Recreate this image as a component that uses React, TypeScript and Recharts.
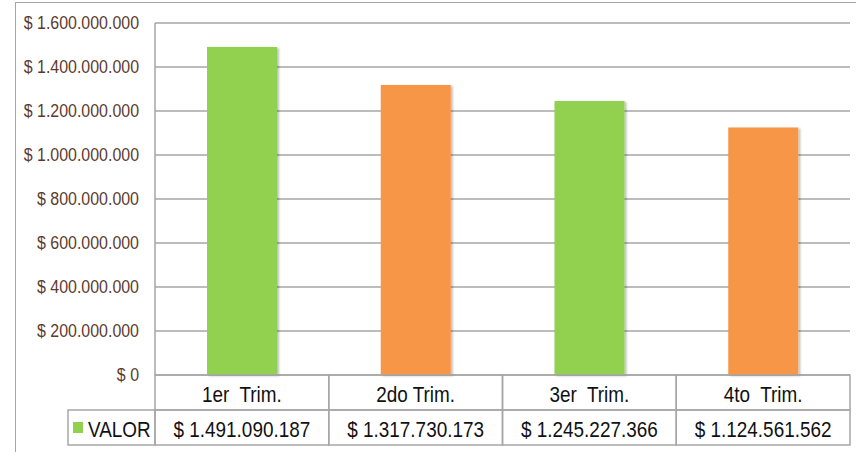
import React from 'react';
import { BarChart, Bar, XAxis, YAxis, CartesianGrid, Cell } from 'recharts';

const categories = ['1er  Trim.', '2do Trim.', '3er  Trim.', '4to  Trim.'];
const values = [1491090187, 1317730173, 1245227366, 1124561562];
const barColors = ['#92D050', '#F79646', '#92D050', '#F79646'];
const yTicks = [0, 200000000, 400000000, 600000000, 800000000, 1000000000, 1200000000, 1400000000, 1600000000];
const seriesName = 'VALOR';

const money = (v: number) => '$ ' + String(v).replace(/\B(?=(\d{3})+(?!\d))/g, '.');

const data = categories.map((name, i) => ({ name, value: values[i], valueLabel: money(values[i]) }));

const FONT = "'Liberation Sans', Arial, sans-serif";
const GRID = '#A6A6A6';
const CHART_W = 856;
const MARGIN = { top: 23, right: 6, bottom: 7, left: 15 };
const Y_W = 140;
const ROW_H = 35;
const CELL_W = (CHART_W - MARGIN.left - MARGIN.right - Y_W) / categories.length;

// no narrow font installed, so squeeze the glyphs horizontally
const NarrowText = ({ x, y, anchor = 'middle', size, fill, squeeze, children }: any) => (
  <text
    transform={`translate(${x},${y}) scale(${squeeze},1)`}
    x={0}
    y={0}
    textAnchor={anchor}
    dominantBaseline="central"
    fill={fill}
    fontSize={size}
    fontFamily={FONT}
    style={{ whiteSpace: 'pre' }}
  >
    {children}
  </text>
);

const CatTick = (props: any) => {
  const { x, y, payload } = props;
  return (
    <g>
      <rect x={x - CELL_W / 2} y={y} width={CELL_W} height={ROW_H} fill="none" stroke={GRID} strokeWidth={1.5} />
      <NarrowText x={x} y={y + ROW_H / 2 + 1} size={22} squeeze={0.86} fill="#111">
        {payload.value}
      </NarrowText>
    </g>
  );
};

const ValTick = (props: any) => {
  const { x, y, payload, index } = props;
  const legendW = 87;
  const lx = x - CELL_W / 2 - legendW;
  return (
    <g>
      <rect x={x - CELL_W / 2} y={y} width={CELL_W} height={ROW_H} fill="none" stroke={GRID} strokeWidth={1.5} />
      <NarrowText x={x} y={y + ROW_H / 2 + 1} size={22} squeeze={0.86} fill="#111">
        {payload.value}
      </NarrowText>
      {index === 0 && (
        <g>
          <rect x={lx} y={y} width={legendW} height={ROW_H} fill="none" stroke={GRID} strokeWidth={1.5} />
          <rect x={lx + 5} y={y + 12} width={10} height={11} fill={barColors[0]} />
          <NarrowText x={lx + 20} y={y + ROW_H / 2 + 1} anchor="start" size={22} squeeze={0.86} fill="#111">
            {seriesName}
          </NarrowText>
        </g>
      )}
    </g>
  );
};

const YTick = (props: any) => {
  const { x, y, payload } = props;
  return (
    <NarrowText x={x} y={y} anchor="end" size={19} squeeze={0.84} fill="#5C3B2E">
      {money(payload.value)}
    </NarrowText>
  );
};

export default function App() {
  return (
    <div style={{ position: 'absolute', left: 0, top: 0, width: 856, height: 452, overflow: 'hidden', background: '#fff' }}>
      <div style={{ position: 'absolute', left: 15, top: 2, width: 900, height: 500, borderLeft: `1.5px solid ${GRID}`, borderTop: `1.5px solid ${GRID}` }} />
      <svg width={0} height={0} style={{ position: 'absolute' }}>
        <defs>
          <filter id="barShadow" x="-10%" y="-10%" width="130%" height="120%">
            <feDropShadow dx="2" dy="1" stdDeviation="1.2" floodColor="#000" floodOpacity="0.25" />
          </filter>
        </defs>
      </svg>
      <div style={{ position: 'absolute', left: 0, top: 0 }}>
        <BarChart width={CHART_W} height={452} data={data} margin={MARGIN} barSize={70}>
          <CartesianGrid xAxisId="cat" vertical={false} stroke={GRID} strokeWidth={1.5} />
          <XAxis xAxisId="cat" dataKey="name" height={ROW_H} axisLine={false} tickLine={false} tickSize={0} tickMargin={0} interval={0} tick={(p: any) => <CatTick {...p} />} />
          <XAxis xAxisId="val" dataKey="valueLabel" height={ROW_H} axisLine={false} tickLine={false} tickSize={0} tickMargin={0} interval={0} tick={(p: any) => <ValTick {...p} />} />
          <YAxis
            width={Y_W}
            domain={[0, 1600000000]}
            ticks={yTicks}
            interval={0}
            axisLine={{ stroke: GRID, strokeWidth: 1.5 }}
            tickLine={false}
            tickSize={0}
            tickMargin={16}
            tick={(p: any) => <YTick {...p} />}
          />
          <Bar xAxisId="cat" dataKey="value" isAnimationActive={false}>
            {data.map((d, i) => (
              <Cell key={d.name} fill={barColors[i]} filter="url(#barShadow)" />
            ))}
          </Bar>
        </BarChart>
      </div>
    </div>
  );
}
